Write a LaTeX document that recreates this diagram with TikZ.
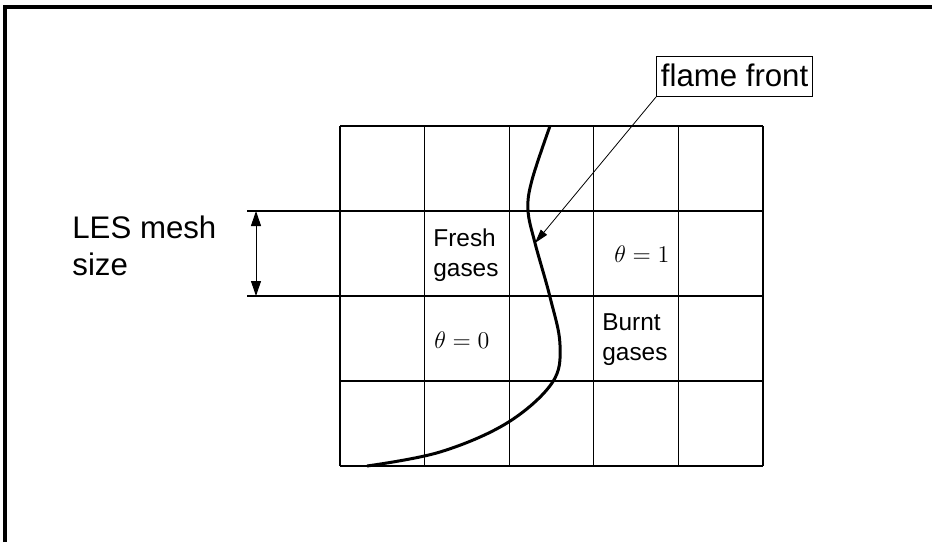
\documentclass[tikz,border=0pt]{standalone}
\usepackage{fontspec}
\setmainfont{Liberation Sans}
\usetikzlibrary{arrows.meta, positioning}

\begin{document}
\begin{tikzpicture}[x=0.5pt, y=-0.5pt,
        lbl/.style = {inner sep=0pt, anchor=base west, align=left, font=\fontsize{12.2}{15}\selectfont},
        biglbl/.style = {lbl, font=\fontsize{15.6}{18.5}\selectfont},
        mathlbl/.style = {inner sep=0pt, anchor=base west, font=\fontsize{11.8}{14}\selectfont},
        meshline/.style = {line width=0.6pt},
        ptr/.style = {-{Triangle[length=7pt, width=4pt]}, line width=0.4pt},
        dimarrow/.style = {{Triangle[length=7.5pt, width=5pt]}-{Triangle[length=7.5pt, width=5pt]}, line width=0.5pt},
      ]
      \useasboundingbox (0,0) rectangle (932,542);
      \draw[line width=1.8pt] (5,542) -- (5,7) -- (932,7);
      % LES mesh
      \foreach \i in {0,...,5} \draw[meshline] (340+84.6*\i,126) -- ++(0,340);
      \foreach \j in {0,...,4} \draw[meshline] (340,126+85*\j) -- (763,126+85*\j);
      \draw[meshline] (247,211) -- (340,211);
      \draw[meshline] (247,296) -- (340,296);
      \coordinate (dimtop) at (256,211);
      \coordinate (dimbot) at (256,296);
      \draw[dimarrow] (dimtop) -- (dimbot);
      % flame
      \coordinate (tip) at (535,243);
      \draw[line width=1.5pt] plot[smooth, tension=0.6] coordinates {(550,126) (532,180) (528,210) (tip) (550,297) (560,345) (552,383) (507,423) (440,452) (367,466)};
      \node[biglbl] (mesh) at (72,275) {LES mesh\\size};
      \node[lbl] (fresh) at (433,276) {Fresh\\gases};
      \node[lbl] (burnt) at (602,360) {Burnt\\gases};
      \node[mathlbl] (th1) at (614,262) {$\theta=1$};
      \node[mathlbl] (th0) at (434,348) {$\theta=0$};
      \node[draw, line width=0.5pt, anchor=south west, inner xsep=2.2pt, inner ysep=3.7pt, text depth=1.3pt, font=\fontsize{15.6}{18}\selectfont] (front) at (656,97) {flame front};
      \draw[ptr] (front.south west) -- (tip);
    \end{tikzpicture}
\end{document}
